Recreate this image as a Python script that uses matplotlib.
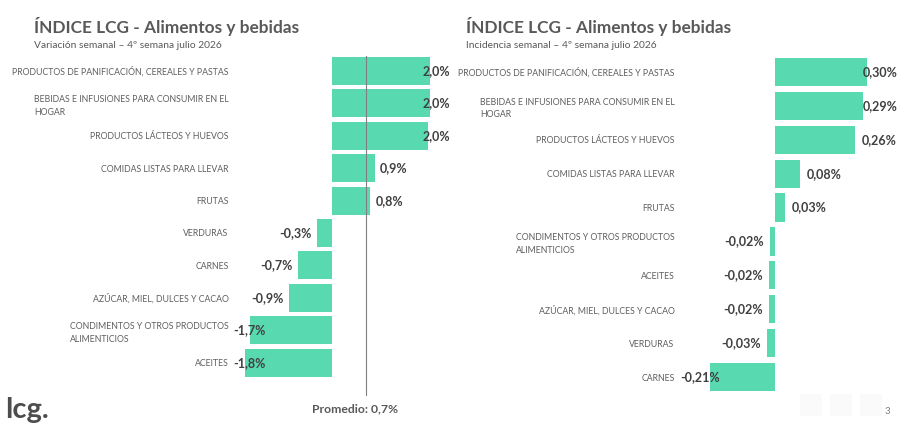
import matplotlib.pyplot as plt
from matplotlib.patches import FancyBboxPatch

plt.rcParams['font.family'] = ['Lato', 'DejaVu Sans']

# left chart: weekly variation (%)
cats_var = ['PRODUCTOS DE PANIFICACIÓN, CEREALES Y PASTAS',
            'BEBIDAS E INFUSIONES PARA CONSUMIR EN EL\nHOGAR',
            'PRODUCTOS LÁCTEOS Y HUEVOS',
            'COMIDAS LISTAS PARA LLEVAR',
            'FRUTAS',
            'VERDURAS',
            'CARNES',
            'AZÚCAR, MIEL, DULCES Y CACAO',
            'CONDIMENTOS Y OTROS PRODUCTOS\nALIMENTICIOS',
            'ACEITES']
vals_var = [2.0, 2.0, 1.96, 0.87, 0.78, -0.31, -0.70, -0.88, -1.68, -1.78]
promedio = 0.7

# right chart: weekly incidence (pp)
cats_inc = ['PRODUCTOS DE PANIFICACIÓN, CEREALES Y PASTAS',
            'BEBIDAS E INFUSIONES PARA CONSUMIR EN EL\nHOGAR',
            'PRODUCTOS LÁCTEOS Y HUEVOS',
            'COMIDAS LISTAS PARA LLEVAR',
            'FRUTAS',
            'CONDIMENTOS Y OTROS PRODUCTOS\nALIMENTICIOS',
            'ACEITES',
            'AZÚCAR, MIEL, DULCES Y CACAO',
            'VERDURAS',
            'CARNES']
vals_inc = [0.300, 0.287, 0.262, 0.082, 0.034, -0.017, -0.018, -0.020, -0.026, -0.212]

GREEN = '#58d9b0'
LABEL_GRAY = '#5f5f5f'
VALUE_GRAY = '#404040'
TITLE_GRAY = '#595959'

W, H = 900, 428
fig = plt.figure(figsize=(9, 4.28), dpi=100)


def px_axes(left, top, right, bottom):
    return fig.add_axes([left / W, 1 - bottom / H, (right - left) / W, (bottom - top) / H])


def draw_bars(ax, cats, vals, xlim, pos_cap, neg_cap, pad, fmt, height):
    n = len(cats)
    y = list(range(n))
    ax.barh(y, vals, height=height, color=GREEN, zorder=2)
    ax.set_xlim(*xlim)
    ax.set_ylim(n - 0.5, -0.5)
    ax.set_yticks(y, cats)
    ax.tick_params(axis='y', length=0, pad=1, labelsize=6.3, labelcolor=LABEL_GRAY)
    for lab in ax.get_yticklabels():
        lab.set_multialignment('left')
        lab.set_linespacing(1.5)
    ax.set_xticks([])
    for s in ax.spines.values():
        s.set_visible(False)
    for yi, v in zip(y, vals):
        txt = fmt(v)
        if v >= 0:
            ax.text(min(v + pad, pos_cap), yi, txt, ha='left', va='center',
                    fontsize=9, fontweight='bold', color=VALUE_GRAY, zorder=4)
        else:
            ax.text(max(v - pad, neg_cap), yi, txt, ha='right', va='center',
                    fontsize=9, fontweight='bold', color=VALUE_GRAY, zorder=4)


# left panel: zero at x=332 px, 49 px per unit
ax1 = px_axes(230, 54.8, 450, 378.8)
draw_bars(ax1, cats_var, vals_var,
          ((230 - 332) / 49, (450 - 332) / 49), 1.84, -1.35, 0.11,
          lambda v: f'{v:.1f}%'.replace('.', ','), 0.86)
ax1.axvline(promedio, ymin=-0.05, ymax=0.997, color='#808080', lw=0.8,
            clip_on=False, zorder=3)
ax1.text(promedio - 0.22, -0.093, 'Promedio: ' + f'{promedio:.1f}%'.replace('.', ','),
         transform=ax1.get_xaxis_transform(), ha='center', va='center',
         fontsize=8.8, fontweight='bold', color=TITLE_GRAY)

# right panel: zero at x=775 px, 306.7 px per unit
ax2 = px_axes(676, 55, 900, 394)
draw_bars(ax2, cats_inc, vals_inc,
          ((676 - 775) / 306.7, (900 - 775) / 306.7), 0.285, -0.18, 0.02,
          lambda v: f'{v:.2f}%'.replace('.', ','), 0.83)

# titles
for x0, sub in [(34, 'Variación semanal – 4º semana julio 2026'),
                (466, 'Incidencia semanal – 4º semana julio 2026')]:
    fig.text(x0 / W, 1 - 26 / H, 'ÍNDICE LCG - Alimentos y bebidas', ha='left', va='center',
             fontsize=12.4, fontweight='bold', color=TITLE_GRAY)
    fig.text(x0 / W, 1 - 45 / H, sub, ha='left', va='center', fontsize=7.4, color=TITLE_GRAY)

# footer
fig.text(5 / W, 1 - 410 / H, 'lcg.', ha='left', va='center', fontsize=21,
         fontweight='bold', color='#4d4d4d')
fig.text(887 / W, 1 - 411 / H, '3', ha='center', va='center', fontsize=7, color='#808080')
for x0 in (800, 830, 860):
    fig.patches.append(FancyBboxPatch((x0 / W, 1 - 416 / H), 22 / W, 22 / H,
                                      boxstyle='round,pad=0', transform=fig.transFigure,
                                      facecolor='#fafafa', edgecolor='none'))

fig.savefig('out.png', dpi=100)
